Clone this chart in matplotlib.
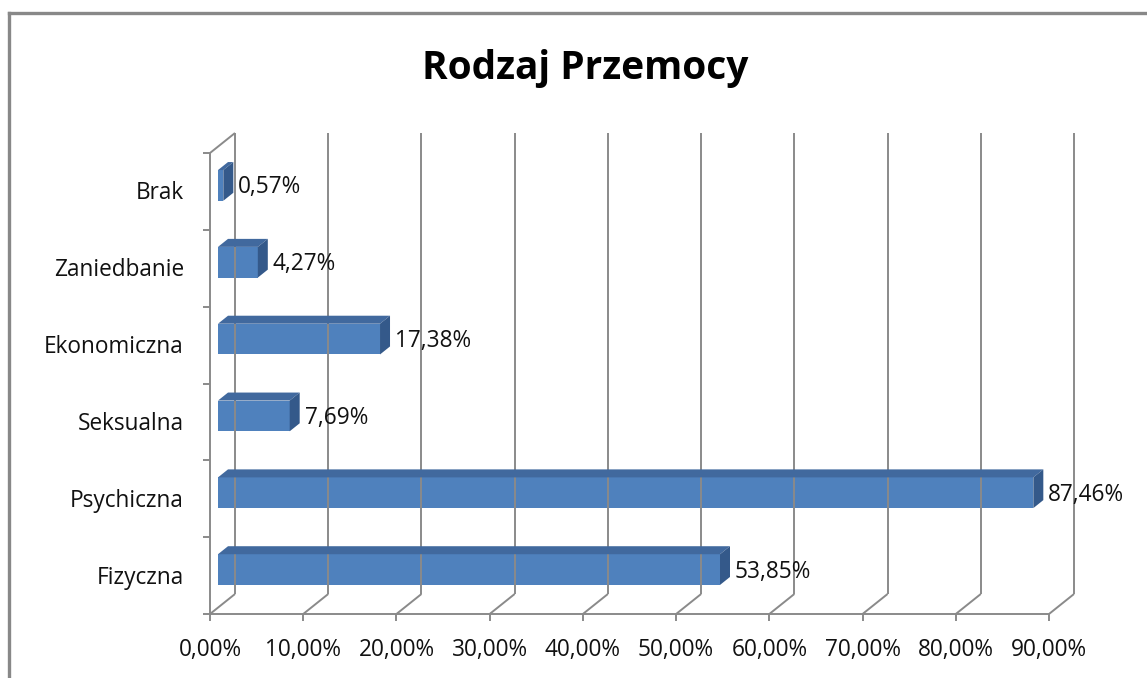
import matplotlib
matplotlib.use('Agg')
import matplotlib.pyplot as plt
from matplotlib.patches import Polygon
from matplotlib.lines import Line2D
from matplotlib.transforms import ScaledTranslation, IdentityTransform
import numpy as np

# ---- data ----
categories = ['Fizyczna', 'Psychiczna', 'Seksualna', 'Ekonomiczna', 'Zaniedbanie', 'Brak']
values = [53.85, 87.46, 7.69, 17.38, 4.27, 0.57]
value_labels = ['53,85%', '87,46%', '7,69%', '17,38%', '4,27%', '0,57%']
xticks = [0, 10, 20, 30, 40, 50, 60, 70, 80, 90]
xtick_labels = ['0,00%', '10,00%', '20,00%', '30,00%', '40,00%', '50,00%',
                '60,00%', '70,00%', '80,00%', '90,00%']
title = 'Rodzaj Przemocy'

# ---- style ----
W, H = 1147, 678
FONT = 'Open Sans'
FS = 16.3
GRID = '#8a8a8a'
FRONT = '#4F81BD'
TOP = '#41699E'
SIDE = '#34598A'
WALL = (25, 20)        # depth offset of back wall (px right, px up)
BAR_F = (8, 6)         # bar front offset
BAR_B = (18, 14)       # bar back offset
BAR_H = 0.40

fig = plt.figure(figsize=(W / 100, H / 100), dpi=100)
ax = fig.add_axes([210 / W, 64 / H, 839 / W, 461 / H])
ax.set_xlim(0, 90)
ax.set_ylim(-0.5, len(categories) - 0.5)
ax.axis('off')

ident = IdentityTransform()
ymin, ymax = -0.5, len(categories) - 0.5


def P(x, y, d=(0, 0)):
    px, py = ax.transData.transform((x, y))
    return (px + d[0], py + d[1])


def line(p1, p2, color=GRID, lw=1.4, z=1):
    fig.add_artist(Line2D([p1[0], p2[0]], [p1[1], p2[1]], color=color, lw=lw,
                          transform=ident, zorder=z, solid_capstyle='butt'))


# back wall vertical gridlines + floor diagonals
for x in xticks:
    line(P(x, ymin, WALL), P(x, ymax, WALL))
    line(P(x, ymin), P(x, ymin, WALL))
    a = P(x, ymin)
    line(a, (a[0], a[1] - 7))
# front floor edge
line(P(0, ymin), P(90, ymin))
# left wall
line(P(0, ymin), P(0, ymax))
line(P(0, ymax), P(0, ymax, WALL))
for k in range(len(categories) + 1):
    a = P(0, ymin + k)
    line((a[0] - 7, a[1]), a)

# bars
ypos = np.arange(len(categories))
off_front = ax.transData + ScaledTranslation(BAR_F[0] / 100, BAR_F[1] / 100, fig.dpi_scale_trans)
ax.barh(ypos, values, height=BAR_H, left=0, color=FRONT, transform=off_front,
        zorder=3, clip_on=False)
for y, v in zip(ypos, values):
    ftl = P(0, y + BAR_H / 2, BAR_F)
    ftr = P(v, y + BAR_H / 2, BAR_F)
    fbr = P(v, y - BAR_H / 2, BAR_F)
    btl = P(0, y + BAR_H / 2, BAR_B)
    btr = P(v, y + BAR_H / 2, BAR_B)
    bbr = P(v, y - BAR_H / 2, BAR_B)
    fig.add_artist(Polygon([ftl, ftr, btr, btl], closed=True, facecolor=TOP,
                           edgecolor='none', transform=ident, zorder=4))
    fig.add_artist(Polygon([ftr, fbr, bbr, btr], closed=True, facecolor=SIDE,
                           edgecolor='none', transform=ident, zorder=4))

# value labels
for y, v, s in zip(ypos, values, value_labels):
    px, py = P(v, y, (BAR_F[0] + 15, BAR_F[1] - 2))
    fig.text(px / W, py / H, s, ha='left', va='center', fontsize=FS,
             family=FONT, color='#111111', zorder=6)

# x tick labels
for x, s in zip(xticks, xtick_labels):
    px, py = P(x, ymin)
    fig.text(px / W, (py - 36) / H, s, ha='center', va='center', fontsize=FS,
             family=FONT, color='#111111')

# category labels
for y, s in zip(ypos, categories):
    px, py = P(0, y)
    fig.text((px - 26) / W, (py - 2) / H, s, ha='right', va='center', fontsize=FS,
             family=FONT, color='#111111')

# title
fig.text(585 / W, (H - 68) / H, title, ha='center', va='center', fontsize=28,
         fontweight='bold', family=FONT, color='black')

# outer border (top and left only visible)
fig.add_artist(Line2D([9, 9], [0, H - 13], color='#888888', lw=2.4, transform=ident))
fig.add_artist(Line2D([9, W], [H - 13, H - 13], color='#888888', lw=2.4, transform=ident))

fig.savefig('out.png', dpi=100)
